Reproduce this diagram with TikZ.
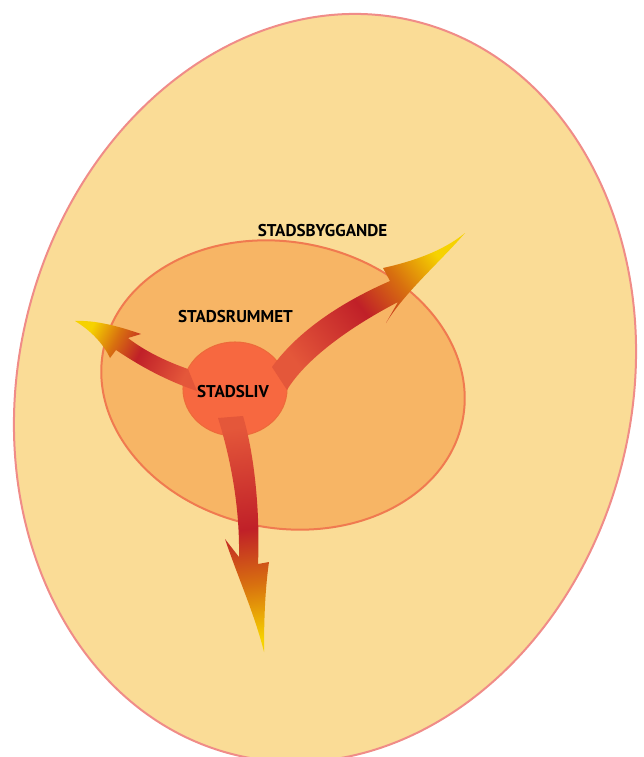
\documentclass[tikz,border=0pt]{standalone}
\usepackage{fontspec}
\setmainfont{PT Sans}
\definecolor{outerfill}{HTML}{FADC96}
\definecolor{outerdraw}{HTML}{F08C88}
\definecolor{midfill}{HTML}{F7B565}
\definecolor{middraw}{HTML}{F07A50}
\definecolor{corefill}{HTML}{F76840}
\definecolor{coredraw}{HTML}{EE6A3A}
\definecolor{abase}{HTML}{E4573A}
\definecolor{ared}{HTML}{C02028}
\definecolor{aorange}{HTML}{D8700F}
\definecolor{ayellow}{HTML}{F6D200}
\pgfdeclarehorizontalshading{arrowgrad}{100bp}{color(0bp)=(abase); color(25bp)=(abase); color(49bp)=(ared); color(62bp)=(aorange); color(75bp)=(ayellow); color(100bp)=(ayellow)}
\tikzset{
  lbl/.style={font=\bfseries\fontsize{12.8}{13}\selectfont, inner sep=0pt, text=black},
  flowarrow/.style={shading=arrowgrad},
}
\begin{document}
\begin{tikzpicture}[x=0.75pt,y=-0.75pt]
\fill[white] (0,0) rectangle (643,757);
\path[use as bounding box] (0,0) rectangle (643,757);
% outer region
\draw[fill=outerfill, draw=outerdraw, line width=1.5pt, rotate around={-13.8:(325,388)}]
  (325,388) ellipse [x radius=306.5, y radius=377.7];
% middle region
\draw[fill=midfill, draw=middraw, line width=1.5pt, rotate around={-11:(283,385)}]
  (283,385) ellipse [x radius=183, y radius=143];
% core
\draw[fill=corefill, draw=coredraw, line width=0.8pt] (235,389) ellipse [x radius=52, y radius=47];
% up-right arrow
\shade[flowarrow, shading angle=38]
  (272,367) .. controls (295,335) and (335,305) .. (390,281)
  -- (383,268)
  .. controls (410,262) and (442,252) .. (465,233)
  .. controls (440,262) and (405,292) .. (386,323)
  -- (398,302)
  .. controls (348,328) and (305,360) .. (287,390)
  -- cycle;
% left arrow
\shade[flowarrow, shading angle=153]
  (188,369) .. controls (168,362) and (146,352) .. (128,338)
  -- (141,334)
  .. controls (118,326) and (95,320) .. (75,321)
  .. controls (90,330) and (103,343) .. (110,358)
  -- (116,350)
  .. controls (140,366) and (165,380) .. (197,391)
  -- cycle;
% down arrow
\shade[flowarrow, shading angle=-82]
  (218,418) .. controls (228,450) and (240,500) .. (239,557)
  -- (225,539)
  .. controls (237,575) and (255,615) .. (264,652)
  .. controls (264,620) and (265,590) .. (269,562)
  -- (258,564)
  .. controls (260,520) and (256,460) .. (243,416)
  -- cycle;
% labels
\node[lbl] (byg) at (322.5,231) {STADSBYGGANDE};
\node[lbl] (rum) at (235.5,316.5) {STADSRUMMET};
\node[lbl] (liv) at (233,391.5) {STADSLIV};
\end{tikzpicture}
\end{document}
